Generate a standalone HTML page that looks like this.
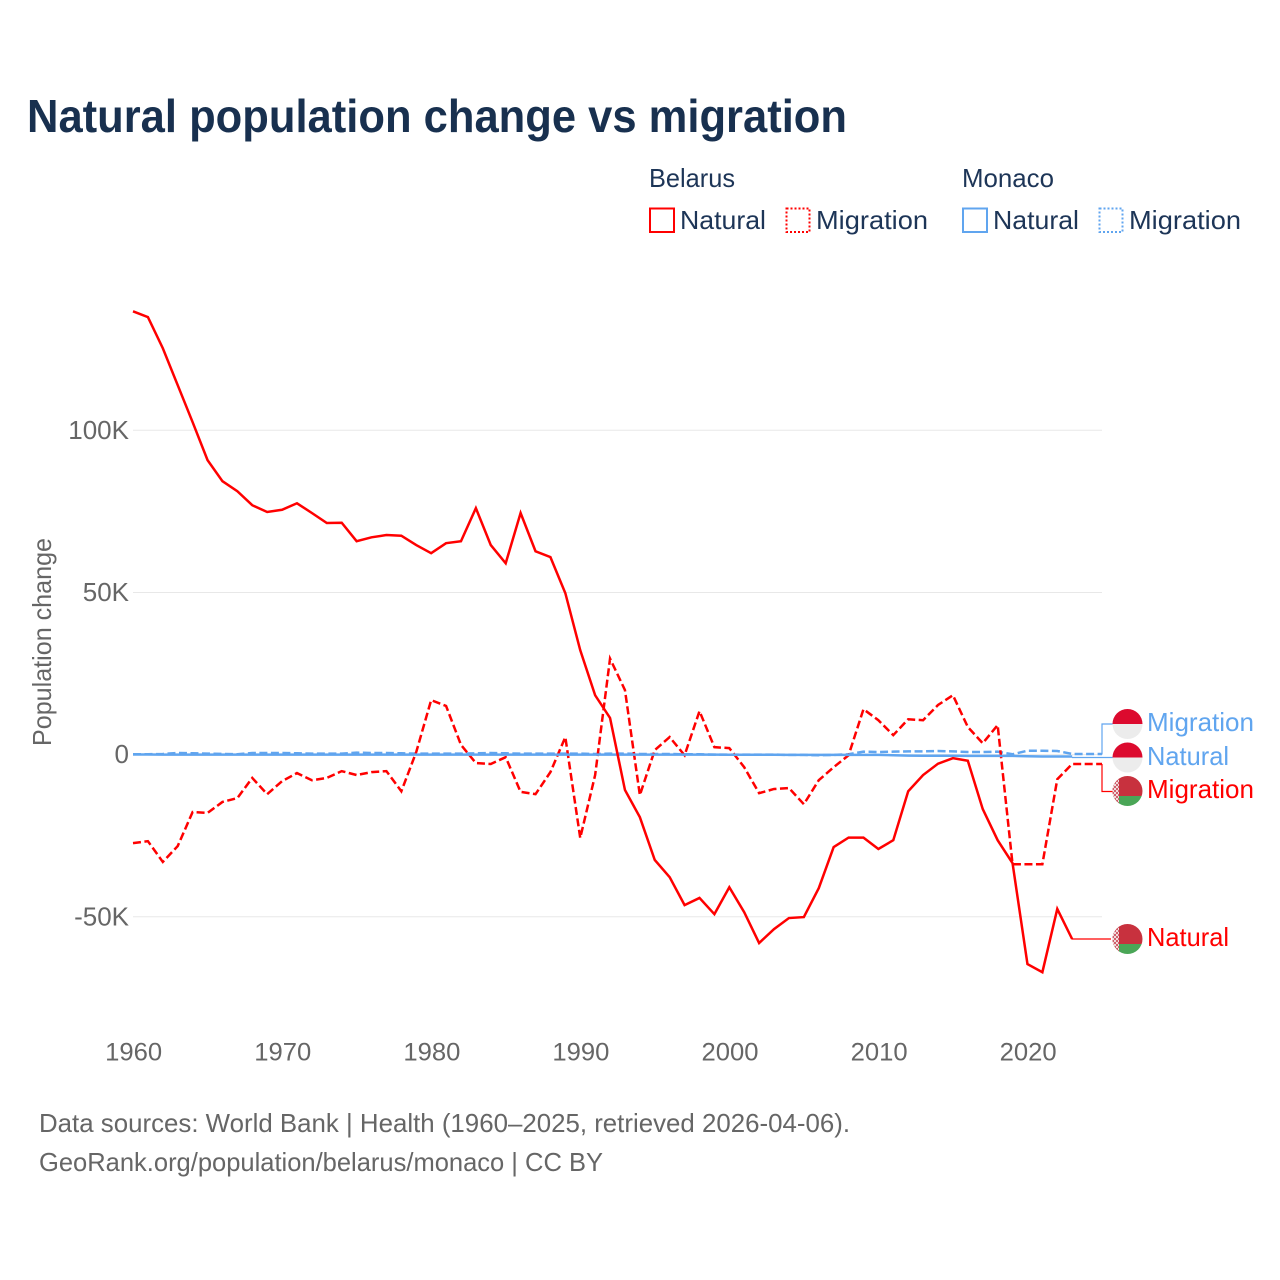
<!DOCTYPE html>
<html lang="en">
<head>
<meta charset="utf-8">
<title>Natural population change vs migration</title>
<style>
html,body{margin:0;padding:0;background:#fff;width:1280px;height:1280px;overflow:hidden}
svg{display:block}
text{font-family:"Liberation Sans",sans-serif}
</style>
</head>
<body>
<svg id="chart" xmlns="http://www.w3.org/2000/svg" width="1280" height="1280" viewBox="0 0 1280 1280">
<defs>
<clipPath id="flag-clip-1"><circle cx="1127.5" cy="724" r="15"/></clipPath>
<clipPath id="flag-clip-2"><circle cx="1127.5" cy="757.5" r="15"/></clipPath>
<clipPath id="flag-clip-3"><circle cx="1127.5" cy="791" r="15"/></clipPath>
<clipPath id="flag-clip-4"><circle cx="1127.5" cy="939" r="15"/></clipPath>
<pattern id="hoist" width="4" height="4" patternUnits="userSpaceOnUse"><rect width="4" height="4" fill="#f0dcdc"/><rect x="0" y="0" width="2" height="2" fill="#d0606c"/><rect x="2" y="2" width="2" height="2" fill="#d0606c"/></pattern>
</defs>
<rect width="1280" height="1280" fill="#fff"/>
<text x="27" y="132" font-size="46" font-weight="700" fill="#18304f" textLength="820" lengthAdjust="spacingAndGlyphs">Natural population change vs migration</text>

<g font-size="26" fill="#1d3557">
<text x="649" y="187" textLength="86" lengthAdjust="spacingAndGlyphs">Belarus</text>
<text x="962" y="187" textLength="92" lengthAdjust="spacingAndGlyphs">Monaco</text>
<g>
<rect x="650" y="208.5" width="24" height="23.5" fill="#fff" stroke="#ff0000" stroke-width="2"/>
<text x="680" y="229" textLength="86" lengthAdjust="spacingAndGlyphs">Natural</text>
</g>
<g>
<rect x="786.5" y="208.5" width="23" height="23.5" fill="#fff" stroke="#ff0000" stroke-width="2" stroke-dasharray="2 2"/>
<text x="816" y="229" textLength="112" lengthAdjust="spacingAndGlyphs">Migration</text>
</g>
<g>
<rect x="963" y="208.5" width="24" height="23.5" fill="#fff" stroke="#60a5ef" stroke-width="2"/>
<text x="993" y="229" textLength="86" lengthAdjust="spacingAndGlyphs">Natural</text>
</g>
<g>
<rect x="1099.5" y="208.5" width="23" height="23.5" fill="#fff" stroke="#60a5ef" stroke-width="2" stroke-dasharray="2 2"/>
<text x="1129" y="229" textLength="112" lengthAdjust="spacingAndGlyphs">Migration</text>
</g>
</g>

<text transform="translate(51,642) rotate(-90)" text-anchor="middle" font-size="26" fill="#666" textLength="208" lengthAdjust="spacingAndGlyphs">Population change</text>

<g id="grid"></g>
<g id="yticks"></g>
<g id="xticks"></g>
<g id="series"></g>

<g fill="none" stroke-width="1.2">
<path d="M1102 754.5V724H1113" stroke="#60a5ef"/>
<path d="M1072 757.5H1113" stroke="#60a5ef"/>
<path d="M1102 764V791.5H1113" stroke="#ff0000"/>
<path d="M1072 939H1111" stroke="#ff0000"/>
</g>

<g clip-path="url(#flag-clip-1)">
<rect x="1112" y="709" width="31" height="15" fill="#dc0a2e"/><rect x="1112" y="724" width="31" height="15" fill="#ececec"/>
</g>
<g clip-path="url(#flag-clip-2)">
<rect x="1112" y="742.5" width="31" height="15" fill="#dc0a2e"/><rect x="1112" y="757.5" width="31" height="15" fill="#ececec"/>
</g>
<g clip-path="url(#flag-clip-3)">
<rect x="1112" y="776" width="31" height="20" fill="#c8313e"/><rect x="1112" y="796" width="31" height="10" fill="#4aa657"/><rect x="1112" y="776" width="7" height="30" fill="url(#hoist)"/>
</g>
<g clip-path="url(#flag-clip-4)">
<rect x="1112" y="924" width="31" height="20" fill="#c8313e"/><rect x="1112" y="944" width="31" height="10" fill="#4aa657"/><rect x="1112" y="924" width="7" height="30" fill="url(#hoist)"/>
</g>

<g font-size="26">
<text x="1147" y="731" fill="#60a5ef" textLength="107" lengthAdjust="spacingAndGlyphs">Migration</text>
<text x="1147" y="765" fill="#60a5ef" textLength="82" lengthAdjust="spacingAndGlyphs">Natural</text>
<text x="1147" y="798" fill="#ff0000" textLength="107" lengthAdjust="spacingAndGlyphs">Migration</text>
<text x="1147" y="946" fill="#ff0000" textLength="82" lengthAdjust="spacingAndGlyphs">Natural</text>
</g>

<g font-size="26" fill="#666">
<text x="39" y="1132" textLength="811" lengthAdjust="spacingAndGlyphs">Data sources: World Bank | Health (1960–2025, retrieved 2026-04-06).</text>
<text x="39" y="1171" textLength="564" lengthAdjust="spacingAndGlyphs">GeoRank.org/population/belarus/monaco | CC BY</text>
</g>
</svg>

<script>
// Values in thousands of people, one per year starting at startYear.
const startYear = 1960;
const belarusNatural = [136.7,134.9,125.3,113.9,102.5,90.8,84.3,81.2,76.9,74.8,75.5,77.5,74.5,71.4,71.5,65.8,67,67.7,67.5,64.6,62.1,65.2,65.8,76,64.6,59,74.5,62.7,60.9,49.8,32.2,18.3,11.3,-10.9,-19.3,-32.5,-37.8,-46.4,-44.2,-49.2,-40.9,-48.6,-58.1,-53.8,-50.4,-50.1,-41.2,-28.5,-25.6,-25.6,-29.1,-26.4,-11.3,-6.3,-2.8,-1.1,-1.9,-16.8,-26.4,-33.5,-64.6,-67.1,-47.6,-56.9];
const belarusMigration = [-27.3,-26.7,-33.1,-28.2,-17.7,-18,-14.6,-13.4,-7.2,-12.2,-8.2,-5.7,-7.9,-7.2,-5.1,-6.3,-5.4,-5.1,-11.3,0.8,16.8,15,3,-2.6,-2.9,-0.8,-11.5,-12.2,-5.4,5.4,-25.7,-6.3,29.6,19.9,-12.5,1.4,5.4,-0.2,13.4,2.3,2,-3.9,-11.9,-10.6,-10.3,-15.3,-7.9,-3.9,-0.2,14,10.6,6,10.9,10.6,15.3,18.3,8.5,3.5,9.1,-33.8,-33.8,-33.8,-7.6,-2.9,-2.9,-2.9];
const monacoNatural = [0.05,0.05,0,0,0,0,0,0,0,0,0,0,0,0,0,0,0,0,0,0,0,0,0,0,0,0,0,0,0,0,0,0,0,0,0,0,0,0,0,0,-0.05,-0.05,-0.05,-0.05,-0.1,-0.1,-0.1,-0.1,-0.1,-0.1,-0.1,-0.2,-0.3,-0.35,-0.35,-0.35,-0.4,-0.4,-0.4,-0.4,-0.5,-0.6,-0.6,-0.6];
const monacoMigration = [0.1,0.1,0.2,0.5,0.4,0.3,0.2,0.1,0.5,0.5,0.5,0.4,0.3,0.3,0.3,0.6,0.5,0.5,0.4,0.3,0.3,0.3,0.3,0.4,0.5,0.4,0.3,0.3,0.3,0.3,0.3,0.2,0.3,0.3,0.2,0.2,0.2,0.1,0.1,0,0,0,0,0,-0.1,-0.1,-0.2,-0.1,0.1,0.9,0.8,0.9,1,1,1.1,1,0.8,0.8,0.9,0.1,1.2,1.2,1.1,0.2,0.2,0.2];
const yTickValues = [100,50,0,-50];
const yTickLabels = ["100K","50K","0","-50K"];
const xTickYears = [1960,1970,1980,1990,2000,2010,2020];

const NS = "http://www.w3.org/2000/svg";
function xScale(year){ return 133 + (year - 1960) * (1102 - 133) / 65; }
function yScale(k){ return 754.6 - k * 3.243; }
function make(tag, parent, attrs){
  const el = document.createElementNS(NS, tag);
  for (const key in attrs) el.setAttribute(key, attrs[key]);
  document.getElementById(parent).appendChild(el);
  return el;
}
function linePath(values){
  return values.map(function(v, i){
    return (i ? "L" : "M") + xScale(startYear + i).toFixed(2) + " " + yScale(v).toFixed(2);
  }).join("");
}

yTickValues.forEach(function(v, i){
  const line = make("line", "grid", {x1: 133, x2: 1102, y1: yScale(v), y2: yScale(v), stroke: "#e8e8e8", "stroke-width": 1});
  
  
  const label = make("text", "yticks", {x: 129, y: yScale(v) + 8.5, "text-anchor": "end", "font-size": 26, fill: "#666"});
  
  
  label.textContent = yTickLabels[i];
});

xTickYears.forEach(function(year){
  const label = make("text", "xticks", {x: xScale(year) + 0.7, y: 1060.5, "text-anchor": "middle", "font-size": 25, fill: "#666", textLength: 57, lengthAdjust: "spacingAndGlyphs"});
  
  
  label.textContent = year;
});

const lineStyle = {fill: "none", "stroke-width": 2.5, "stroke-linejoin": "miter"};

const lineMonacoMigration = make("path", "series", Object.assign({d: linePath(monacoMigration), stroke: "#60a5ef", "stroke-dasharray": "8 3.5"}, lineStyle));



const lineBelarusMigration = make("path", "series", Object.assign({d: linePath(belarusMigration), stroke: "#ff0000", "stroke-dasharray": "8 3.5"}, lineStyle));



const lineMonacoNatural = make("path", "series", Object.assign({d: linePath(monacoNatural), stroke: "#60a5ef"}, lineStyle));



const lineBelarusNatural = make("path", "series", Object.assign({d: linePath(belarusNatural), stroke: "#ff0000"}, lineStyle));


</script>
</body>
</html>
